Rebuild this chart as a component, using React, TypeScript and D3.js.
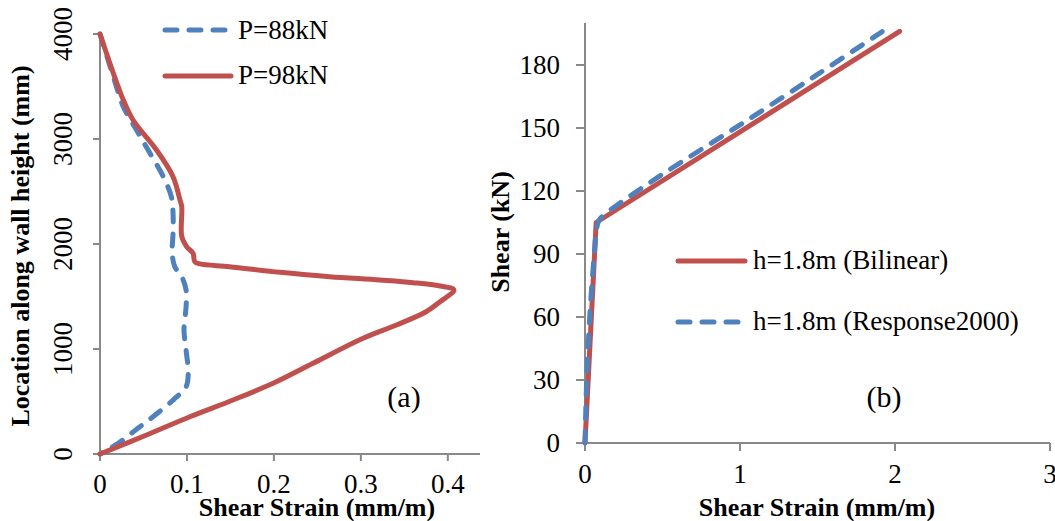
import React from "react";
import * as d3 from "d3";

// Panel (a): shear strain profile along wall height, [strain (mm/m), height (mm)]
const p88: [number, number][] = [
  [0, 4000], [0.0153, 3594], [0.0268, 3308], [0.042, 3086], [0.0575, 2864],
  [0.0728, 2641], [0.082, 2451], [0.084, 2292], [0.084, 2100], [0.083, 1911],
  [0.086, 1784], [0.094, 1689], [0.099, 1562], [0.099, 1403], [0.0966, 1181],
  [0.099, 990], [0.1015, 768], [0.099, 641], [0.085, 521], [0.062, 362],
  [0.041, 229], [0.021, 102], [0, 0],
];
const p98: [number, number][] = [
  [0, 4000], [0.0268, 3371], [0.038, 3181], [0.065, 2895], [0.084, 2641],
  [0.092, 2419], [0.094, 2355], [0.094, 2070], [0.0996, 1975], [0.107, 1911],
  [0.109, 1831], [0.115, 1810], [0.149, 1784], [0.207, 1730], [0.264, 1689],
  [0.322, 1657], [0.36, 1632], [0.391, 1600], [0.407, 1562], [0.391, 1450],
  [0.375, 1355], [0.341, 1229], [0.3026, 1102], [0.245, 864], [0.199, 673],
  [0.153, 514], [0.1034, 355], [0.0536, 181], [0, 0],
];
const aXTicks = [0, 0.1, 0.2, 0.3, 0.4];
const aYTicks = [0, 1000, 2000, 3000, 4000];

// Panel (b): shear force vs shear strain, [strain (mm/m), shear (kN)]
const bilinear: [number, number][] = [[0, 0], [0.072, 105], [2.03, 196]];
const response2000: [number, number][] = [
  [0, 0], [0.011, 30], [0.032, 62], [0.06, 90], [0.075, 102], [0.09, 106],
  [0.12, 108.5], [0.23, 114.5], [0.5, 128], [1, 151.5], [1.5, 175.5], [1.93, 196.5],
];
const bXTicks = [0, 1, 2, 3];
const bYTicks = [0, 30, 60, 90, 120, 150, 180];

const RED = "#C0504D";
const BLUE = "#4F81BD";
const AXIS = "#898989";
const FONT = "'Liberation Serif', 'Times New Roman', serif";

export default function App() {
  // panel (a) scales
  const ax = d3.scaleLinear().domain([0, 0.437]).range([100, 480]);
  const ay = d3.scaleLinear().domain([0, 4000]).range([454, 34]);
  const aLine = d3
    .line<[number, number]>()
    .x((d) => ax(d[0]))
    .y((d) => ay(d[1]))
    .curve(d3.curveCatmullRom.alpha(0.5));

  // panel (b) scales
  const bx = d3.scaleLinear().domain([0, 3]).range([585, 1050]);
  const by = d3.scaleLinear().domain([0, 200]).range([443, 23]);
  const bCurve = d3
    .line<[number, number]>()
    .x((d) => bx(d[0]))
    .y((d) => by(d[1]))
    .curve(d3.curveCatmullRom.alpha(0.5));
  const bStraight = d3
    .line<[number, number]>()
    .x((d) => bx(d[0]))
    .y((d) => by(d[1]));

  return (
    <svg
      width={1055}
      height={521}
      style={{ position: "absolute", left: 0, top: 0, background: "#fff", fontFamily: FONT }}
    >
      {/* ---------- panel (a) ---------- */}
      <g>
        <line x1={ax(0)} x2={480} y1={ay(0)} y2={ay(0)} stroke={AXIS} strokeWidth={2} />
        <line x1={ax(0)} x2={ax(0)} y1={ay(0)} y2={ay(4000)} stroke={AXIS} strokeWidth={2} />
        {aXTicks.map((t) => (
          <g key={t}>
            <line x1={ax(t)} x2={ax(t)} y1={ay(0)} y2={ay(0) + 7} stroke={AXIS} strokeWidth={2} />
            <text x={ax(t)} y={ay(0) + 39} fontSize={27} textAnchor="middle">
              {t}
            </text>
          </g>
        ))}
        {aYTicks.map((t) => (
          <g key={t}>
            <line x1={ax(0) - 7} x2={ax(0)} y1={ay(t)} y2={ay(t)} stroke={AXIS} strokeWidth={2} />
            <text
              transform={`translate(72,${ay(t)}) rotate(-90)`}
              fontSize={27}
              textAnchor="middle"
            >
              {t}
            </text>
          </g>
        ))}
        <path d={aLine(p88) || ""} fill="none" stroke={BLUE} strokeWidth={5} strokeDasharray="12 12" strokeLinecap="round" />
        <path d={aLine(p98) || ""} fill="none" stroke={RED} strokeWidth={5} strokeLinecap="round" strokeLinejoin="round" />
        <text x={317} y={516} fontSize={26} fontWeight="bold" textAnchor="middle">
          Shear Strain (mm/m)
        </text>
        <text transform="translate(29,246) rotate(-90)" fontSize={26} fontWeight="bold" textAnchor="middle">
          Location along wall height (mm)
        </text>
        {/* legend */}
        <line x1={165} x2={226} y1={30} y2={30} stroke={BLUE} strokeWidth={5} strokeDasharray="12 12" strokeLinecap="round" />
        <text x={238} y={38.5} fontSize={27}>P=88kN</text>
        <line x1={165} x2={231} y1={76} y2={76} stroke={RED} strokeWidth={5} strokeLinecap="round" />
        <text x={238} y={83.5} fontSize={27}>P=98kN</text>
        <text x={404} y={407} fontSize={30} textAnchor="middle">(a)</text>
      </g>

      {/* ---------- panel (b) ---------- */}
      <g>
        <line x1={bx(0)} x2={bx(3)} y1={by(0)} y2={by(0)} stroke={AXIS} strokeWidth={2} />
        <line x1={bx(0)} x2={bx(0)} y1={by(0)} y2={by(200)} stroke={AXIS} strokeWidth={2} />
        {bXTicks.map((t) => (
          <g key={t}>
            <line x1={bx(t)} x2={bx(t)} y1={by(0)} y2={by(0) + 8} stroke={AXIS} strokeWidth={2} />
            <text x={bx(t)} y={by(0) + 40} fontSize={27} textAnchor="middle">
              {t}
            </text>
          </g>
        ))}
        {bYTicks.map((t) => (
          <g key={t}>
            <line x1={bx(0) - 9} x2={bx(0)} y1={by(t)} y2={by(t)} stroke={AXIS} strokeWidth={2} />
            <text x={560} y={by(t) + 9} fontSize={27} textAnchor="end">
              {t}
            </text>
          </g>
        ))}
        <path d={bStraight(bilinear) || ""} fill="none" stroke={RED} strokeWidth={5} strokeLinecap="round" strokeLinejoin="round" />
        <path d={bCurve(response2000) || ""} fill="none" stroke={BLUE} strokeWidth={5} strokeDasharray="12 12" strokeLinecap="round" />
        <text x={817} y={516} fontSize={26} fontWeight="bold" textAnchor="middle">
          Shear Strain (mm/m)
        </text>
        <text transform="translate(509,232) rotate(-90)" fontSize={26} fontWeight="bold" textAnchor="middle">
          Shear (kN)
        </text>
        {/* legend */}
        <line x1={678} x2={745} y1={261} y2={261} stroke={RED} strokeWidth={5} strokeLinecap="round" />
        <text x={753} y={269} fontSize={27}>h=1.8m (Bilinear)</text>
        <line x1={678} x2={740} y1={322} y2={322} stroke={BLUE} strokeWidth={5} strokeDasharray="12 12" strokeLinecap="round" />
        <text x={753} y={330} fontSize={27}>h=1.8m (Response2000)</text>
        <text x={884} y={407} fontSize={30} textAnchor="middle">(b)</text>
      </g>
    </svg>
  );
}
